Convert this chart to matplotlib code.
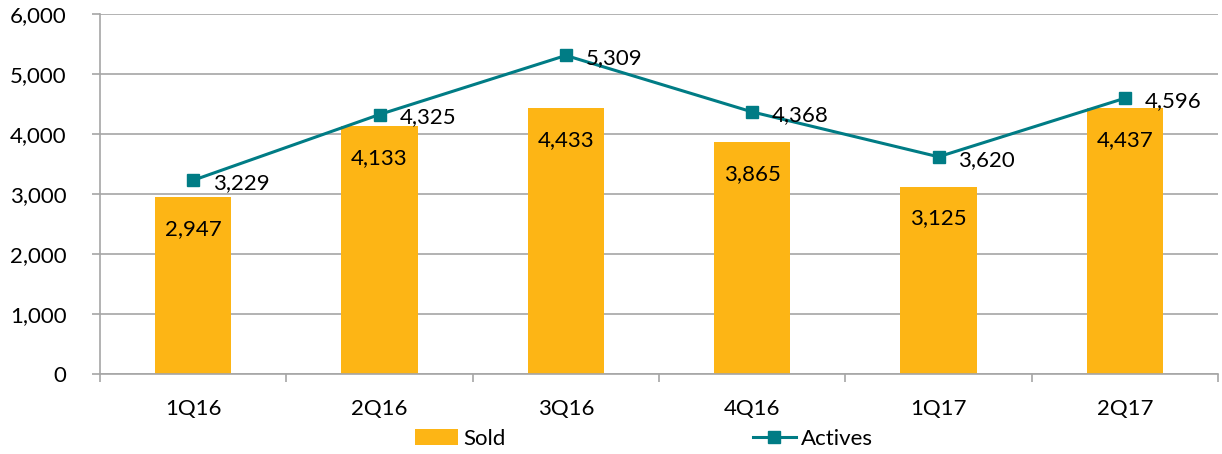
import matplotlib

matplotlib.use("Agg")
import matplotlib.pyplot as plt  # noqa: E402
from matplotlib.ticker import FuncFormatter, FixedLocator  # noqa: E402

plt.rcParams["font.family"] = ["Lato", "DejaVu Sans"]

QUARTERS = ["1Q16", "2Q16", "3Q16", "4Q16", "1Q17", "2Q17"]
SOLD = [2947, 4133, 4433, 3865, 3125, 4437]
ACTIVES = [3229, 4325, 5309, 4368, 3620, 4596]

BAR_C = "#FDB515"
LINE_C = "#007C85"
GRID_C = "#A6A6A6"
FS = 16

fig = plt.figure(figsize=(12.22, 4.54), dpi=100)
ax = fig.add_axes([100 / 1222, 1 - 374 / 454, 1118 / 1222, 360 / 454])

x = list(range(len(QUARTERS)))
bars = ax.bar(x, SOLD, width=0.41, color=BAR_C, label="Sold", zorder=2)
line, = ax.plot(x, ACTIVES, color=LINE_C, lw=2.2, marker="s", ms=9,
                label="Actives", zorder=3)

for xi, v in zip(x, SOLD):
    ax.annotate(f"{v:,}", (xi, v), xytext=(0, -32), textcoords="offset pixels",
                ha="center", va="center", fontsize=FS, zorder=4)
for xi, v in zip(x, ACTIVES):
    ax.annotate(f"{v:,}", (xi, v), xytext=(20, -3), textcoords="offset pixels",
                ha="left", va="center", fontsize=FS, zorder=4)

ax.set_xlim(-0.5, 5.5)
ax.set_ylim(0, 6000)
ax.set_yticks(range(0, 6001, 1000))
ax.yaxis.set_major_formatter(FuncFormatter(lambda v, p: f"{v:,.0f}"))
ax.set_xticks(x)
ax.set_xticklabels(QUARTERS)
ax.xaxis.set_minor_locator(FixedLocator([i - 0.5 for i in range(7)]))
ax.tick_params(axis="x", which="major", length=0, pad=18, labelsize=FS)
ax.tick_params(axis="x", which="minor", length=6, color=GRID_C, width=1.2)
ax.tick_params(axis="y", length=6, color=GRID_C, width=1.2, pad=18, labelsize=FS)

ax.grid(axis="y", color=GRID_C, lw=1.2, zorder=0)
ax.set_axisbelow(True)
for s in ("top", "right"):
    ax.spines[s].set_visible(False)
for s in ("left", "bottom"):
    ax.spines[s].set_color(GRID_C)
    ax.spines[s].set_linewidth(1.2)

fig.legend([bars, line], ["Sold", "Actives"], loc="center",
           bbox_to_anchor=(0.527, 0.033), ncol=2, frameon=False,
           fontsize=FS, columnspacing=11.1, handlelength=1.95, handletextpad=0.25)

fig.savefig("out.png", dpi=100)
